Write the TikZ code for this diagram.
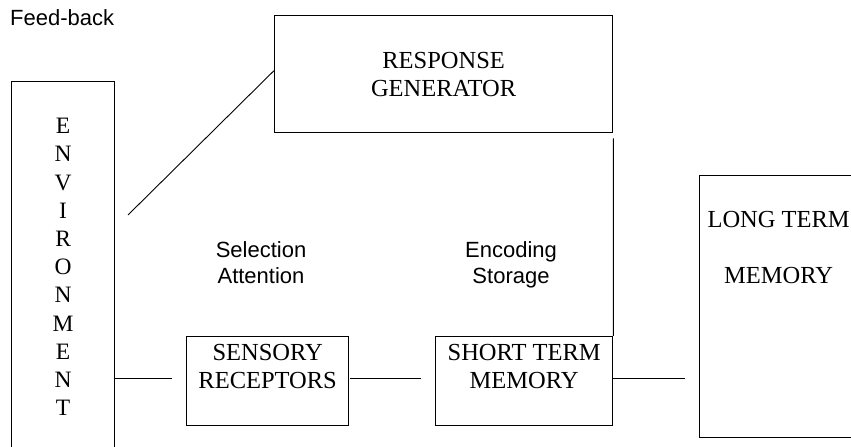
\documentclass[tikz,border=0pt]{standalone}
\usepackage{fontspec}
\setmainfont{Liberation Serif}
\setsansfont{Liberation Sans}
\usetikzlibrary{positioning}

\begin{document}
\begin{tikzpicture}[
  x=1bp, y=-1bp,
  box/.style={draw, line width=1.3bp, inner sep=0pt, align=center,
    font=\fontsize{24.5bp}{28bp}\selectfont},
  tag/.style={inner sep=0pt, align=center,
    font=\sffamily\fontsize{22bp}{26bp}\selectfont},
  wire/.style={line width=0.9bp}
]
  \useasboundingbox (0,0) rectangle (851,447);
  \clip (0,0) rectangle (851,447);

  \node[tag, anchor=base west] (fb) at (10,26) {Feed-back};

  \node[box, anchor=north west, minimum width=103bp, text height=334bp,
    text depth=66bp, font=\fontsize{23.5bp}{28.2bp}\selectfont] (env) at (11,81)
    {E\\N\\V\\I\\R\\O\\N\\M\\E\\N\\T};
  \node[box, anchor=north west, minimum width=338bp, minimum height=117bp] (resp)
    at (274,15) {RESPONSE\\GENERATOR};
  \node[box, anchor=north west, minimum width=162bp, text height=52bp,
    text depth=37bp] (sens) at (186,336) {SENSORY\\RECEPTORS};
  \node[box, anchor=north west, minimum width=177bp, text height=52bp,
    text depth=37bp] (stm) at (435,336) {SHORT TERM\\MEMORY};
  \node[box, anchor=north west, minimum width=158bp, text height=108bp,
    text depth=154bp] (ltm) at (699,175) {LONG TERM\\[28bp]MEMORY};

  \node[tag, anchor=north] (sel) at (261,241.3) {Selection\\Attention};
  \node[tag, anchor=north] (enc) at (511,241.3) {Encoding\\Storage};

  % loose ends of the connectors
  \coordinate (fbend) at (128,215);
  \coordinate (envend) at (172,378);
  \coordinate (sensend) at (350,378);
  \coordinate (stmend) at (421,378);
  \coordinate (ltmend) at (685,378);

  \draw[wire] (fbend) -- ([yshift=3.5bp]resp.west);
  \draw[wire] ([yshift=-5bp]resp.south east) -- (stm.north east);
  \draw[wire] (env.east |- envend) -- (envend);
  \draw[wire] (sensend) -- (stmend);
  \draw[wire] (stm.east |- ltmend) -- (ltmend);
\end{tikzpicture}
\end{document}
